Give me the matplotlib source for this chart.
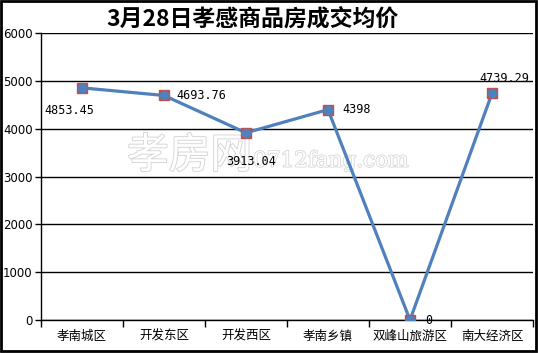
import matplotlib
matplotlib.use("Agg")
import matplotlib.pyplot as plt
import matplotlib.patheffects as pe
from matplotlib.ticker import FixedLocator

plt.rcParams['font.family'] = ['Noto Sans CJK SC', 'DejaVu Sans']

categories = ['孝南城区', '开发东区', '开发西区', '孝南乡镇', '双峰山旅游区', '南大经济区']
values = [4853.45, 4693.76, 3913.04, 4398, 0, 4739.29]
labels = ['4853.45', '4693.76', '3913.04', '4398', '0', '4739.29']
yticks = [0, 1000, 2000, 3000, 4000, 5000, 6000]
title = '3月28日孝感商品房成交均价'

fig = plt.figure(figsize=(5.38, 3.53), dpi=100)
fig.patch.set_facecolor('white')
# outer border
fig.add_artist(plt.Rectangle((0.001, 0.006), 0.996, 0.992, transform=fig.transFigure,
                             fill=False, edgecolor='black', linewidth=2))

ax = fig.add_axes([41/538, 33/353, (533-41)/538, (320-33)/353])
x = list(range(len(categories)))

# watermark
ax.text(0.175, 0.57, '孝房网', transform=ax.transAxes, fontsize=30, color='white',
        ha='left', va='center', zorder=1,
        path_effects=[pe.withStroke(linewidth=1.3, foreground='#d4d4d4')])
ax.text(0.431, 0.555, '0712fang.com', transform=ax.transAxes, fontsize=15.5, color='white',
        ha='left', va='center', zorder=1, family=['DejaVu Serif'],
        path_effects=[pe.withStroke(linewidth=1.1, foreground='#d4d4d4')])

ax.plot(x, values, color='#4F81BD', linewidth=2.3, zorder=3)
ax.plot(x, values, linestyle='none', marker='s', markersize=7.5,
        markerfacecolor='#C0504D', markeredgecolor='#C0504D', zorder=4)
ax.plot(x, values, linestyle='none', marker='o', markersize=6,
        markerfacecolor='#4F81BD', markeredgecolor='#4F81BD', zorder=5)

offsets = [(-9, -16, 'center', 'center'), (9, 0, 'left', 'center'),
           (4, -21, 'center', 'center'), (10, 0, 'left', 'center'),
           (11, 0, 'left', 'center'), (9, 11, 'center', 'center')]
for xi, v, lab, (dx, dy, ha, va) in zip(x, values, labels, offsets):
    ax.annotate(lab, (xi, v), xytext=(dx, dy), textcoords='offset points',
                ha=ha, va=va, fontsize=8.5, family=['DejaVu Sans Mono'], zorder=6)

ax.set_xlim(-0.5, len(categories) - 0.5)
ax.set_ylim(0, 6000)
ax.set_yticks(yticks)
ax.set_yticklabels([str(t) for t in yticks], fontsize=8.5, family=['DejaVu Sans'])
ax.yaxis.grid(True, color='black', linewidth=1)
ax.set_axisbelow(True)
ax.set_xticks(x)
ax.set_xticklabels(categories, fontsize=9)
ax.tick_params(axis='x', which='major', length=0, pad=7)
ax.xaxis.set_minor_locator(FixedLocator([i - 0.5 for i in range(len(categories) + 1)]))
ax.tick_params(axis='x', which='minor', length=5, direction='out', width=1)
ax.tick_params(axis='y', length=4, direction='out', width=1, pad=2)
for s in ['top', 'right']:
    ax.spines[s].set_visible(False)
ax.spines['left'].set_linewidth(1)
ax.spines['bottom'].set_linewidth(1)

fig.text(252/538, 1 - 19/353, title, ha='center', va='center', fontsize=16.5,
         fontweight='bold')

fig.savefig('out.png', dpi=100)
